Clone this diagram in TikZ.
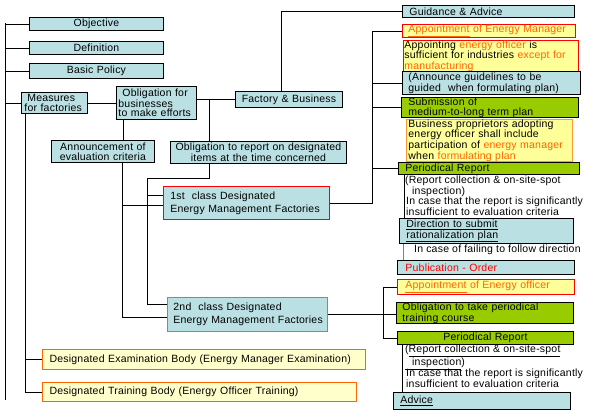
\documentclass[tikz,border=0pt]{standalone}
\usepackage{fontspec}
\setmainfont{Liberation Sans}[LetterSpace=2]
\definecolor{cblue}{HTML}{BBE0E3}
\definecolor{cgreen}{HTML}{99CC00}
\definecolor{cyel}{HTML}{FFFF99}
\definecolor{cpale}{HTML}{FFFFCC}
\definecolor{cred}{HTML}{FF0000}
\definecolor{corange}{HTML}{FF6600}
\definecolor{corl}{HTML}{FF9933}
\newcommand\bx[8][6]{%
 \pgfmathsetlengthmacro\bxw{(#6)-(#4)}%
 \pgfmathsetlengthmacro\bxh{(#7)-(#5)}%
 \pgfmathsetlengthmacro\bxt{(#6)-(#4)-2*(#1)}%
 \node[anchor=north west, minimum width=\bxw, minimum height=\bxh, text width=\bxt, inner xsep=#1pt, #3] (#2) at (#4,#5) {#8};}
\tikzset{
 base/.style={draw, line width=0.9pt, inner ysep=0pt, font=\fontsize{10.5}{9.7}\selectfont, align=left},
 blu/.style={base, fill=cblue},
 grn/.style={base, fill=cgreen},
 ylw/.style={base, fill=cyel, draw=cred},
 ylwo/.style={base, fill=cyel, draw=corl},
 pale/.style={base, fill=cpale, draw=corange, line width=1.2pt},
 ctr/.style={align=center},
 txt/.style={inner sep=1pt, align=left, font=\fontsize{10.5}{9.7}\selectfont, anchor=north west},
 ln/.style={line width=0.9pt},
}
\begin{document}
\begin{tikzpicture}[x=1pt,y=-1pt]
\useasboundingbox (0,0) rectangle (590,413);
% left column
\bx{obj}{blu,ctr}{29}{17}{163}{30}{Objective}
\bx{def}{blu,ctr}{29}{41}{163}{54}{Definition}
\bx{bas}{blu,ctr}{29}{63}{163}{78}{Basic Policy}
\bx[3]{meas}{blu}{21}{92}{87}{113}{\hspace{3pt}Measures\\\mbox{for factories}}
\bx[2]{obl}{blu}{116}{86}{196}{119}{\hspace{4pt}\mbox{Obligation for}\\businesses\\\mbox{to make efforts}}
\bx[2]{ann}{blu,ctr}{51}{140}{154}{162}{Announcement of\\evaluation criteria}
\bx[2]{rep}{blu,ctr}{170}{141}{346}{163}{Obligation to report on designated\\items at the time concerned}
\bx{fac}{blu,ctr}{235}{91}{342}{107}{Factory \& Business}
\bx[7]{fir}{blu,draw=cred,font=\fontsize{10.5}{13}\selectfont}{163}{186}{329}{219}{\mbox{1st\ \ class Designated}\\\mbox{Energy Management Factories}}
\bx[6]{sec}{blu,draw=corange,font=\fontsize{10.5}{13}\selectfont}{167}{297}{327}{331}{\mbox{2nd\ \ class Designated}\\\mbox{Energy Management Factories}}
\bx[7]{exam}{pale}{42}{349}{365}{369}{\mbox{Designated Examination Body (Energy Manager Examination)}}
\bx[7]{trn}{pale}{42}{382}{356}{401}{\mbox{Designated Training Body (Energy Officer Training)}}
% right column
\bx[7]{guid}{blu}{402}{5}{574}{17}{Guidance \& Advice}
\bx[6]{appE}{ylw}{402}{24}{575}{37}{\color{corange}\underline{Appointment} of Energy Manager}
\bx[1]{appg}{ylw}{403}{40}{578}{69}{Appointing {\color{corange}energy officer} is\\\mbox{sufficient for industries {\color{corange}except for}}\\{\color{corange}manufacturing}}
\bx[6]{annG}{blu}{402}{71}{580}{94}{(Announce guidelines to be\\\mbox{guided\ \ when formulating plan)}}
\bx[7]{sub}{grn}{401}{97}{578}{117}{Submission of\\medium-to-long term plan}
\bx[2]{bus}{ylwo}{406}{119}{572}{157}{Business proprietors adopting\\energy officer shall include\\\mbox{participation of {\color{corange}energy manager}}\\when {\color{corange}formulating plan}}
\bx[7]{per1}{grn}{398}{162}{579}{174}{Periodical Report}
\bx[7]{dir}{blu}{399}{218}{573}{243}{\underline{Direction to submit}\\\underline{rationalization plan}}
\bx[8]{pub}{blu}{397}{260}{574}{274}{\color{cred}Publication - Order}
\bx[8]{appO}{ylw}{397}{279}{574}{294}{\color{corange}\underline{Appointment} of Energy officer}
\bx[6]{obl2}{grn}{396}{302}{573}{323}{Obligation to take periodical\\training course}
\bx{per2}{grn,ctr}{397}{331}{573}{344}{Periodical Report}
\bx[7]{adv}{blu}{393}{392}{570}{409}{\underline{Advice}}
% free texts
\node[txt] (t1a) at (404,175) {(Report collection \& on-site-spot\\\hspace{7pt}inspection)};
\node[txt] (t1b) at (405,196) {In case that the report is significantly\\insufficient to evaluation criteria};
\node[txt] (t1c) at (413,244) {In case of failing to follow direction};
\node[txt] (t2a) at (404,344) {(\underline{Report collection \& on-site-spot}\\\underline{\hspace{7pt}inspection})};
\node[txt] (t2b) at (405,368) {In case that the report is significantly\\insufficient to evaluation criteria};
% connectors
\coordinate (LT) at (5,23);
\coordinate (LB) at (5,400);
\draw[ln] (LT) -- (LB);
\foreach \n in {obj,def,bas,meas} \draw[ln] (\n.west) -- (\n.west -| LT);
\coordinate (MT) at ([xshift=4]meas.south west);
\draw[ln] (MT) -- (MT |- trn.west) -- (trn.west);
\draw[ln] (MT |- exam.west) -- (exam.west);
\draw[ln] (meas.east) -- (obl.west);
\draw[ln] ([xshift=7]obl.south west) -- ([xshift=7]obl.south west |- ann.north);
\coordinate (AT) at ([xshift=71]ann.south west);
\coordinate (F1) at ([yshift=7.5]fir.west);
\coordinate (F2) at ([yshift=-2.5]fir.west);
\coordinate (S1) at ([yshift=10]sec.west);
\coordinate (S2) at ([yshift=-3]sec.west);
\draw[ln] (AT) -- (AT |- S2) -- (S2);
\draw[ln] (AT |- F2) -- (F2);
\draw[ln] (obl.east |- fac.west) -- (fac.west);
\draw[ln] ([xshift=39]rep.north west |- fac.west) -- ([xshift=39]rep.north west);
\coordinate (K) at (147,178);
\draw[ln] ([xshift=39]rep.south west) |- (K) -- (K |- S1) -- (S1);
\draw[ln] (K |- F1) -- (F1);
\draw[ln] ([xshift=-7.5]fac.north) |- (guid.west);
\coordinate (RT) at (372,31);
\draw[ln] (fir.east) -| (RT |- appE.west) -- (appE.west);
\foreach \n in {annG,sub,per1} \draw[ln] (RT |- \n.west) -- (\n.west);
\draw[ln] (sec.east) -- (sec.east -| obl2.west);
\coordinate (ST) at (383,287);
\draw[ln] (ST |- appO.west) -- (appO.west);
\draw[ln] (ST |- appO.west) -- (ST |- per2.west) -- (per2.west);
\draw[ln] ([xshift=6]per1.south west) -- ([xshift=6]per1.south west |- dir.north);
\draw[ln, gray] ([xshift=4]dir.south west) -- ([xshift=4]dir.south west |- pub.north);
\draw[ln] ([xshift=5]per2.south west) -- ([xshift=5]per2.south west |- adv.north);
\end{tikzpicture}
\end{document}
